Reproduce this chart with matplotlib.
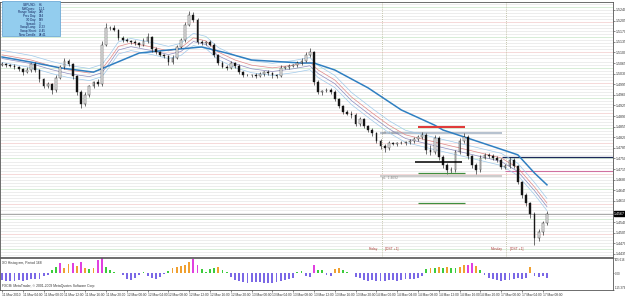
import numpy as np
import matplotlib
matplotlib.use("Agg")
import matplotlib.pyplot as plt
import matplotlib.transforms as mtransforms
from matplotlib.patches import Rectangle

plt.rcParams['font.family'] = ['Liberation Sans', 'DejaVu Sans']

# ============================================================
# DATA
# ============================================================
first_open = 1.5060
closes = [
    1.5062, 1.5058, 1.5055, 1.5052, 1.5045, 1.5035, 1.5042, 1.5062, 1.5042, 1.5012,
    1.4989, 1.4996, 1.4976, 1.5016, 1.5052, 1.5072, 1.5062, 1.5022, 1.4969, 1.4930,
    1.4960, 1.4989, 1.5002, 1.4996, 1.5125, 1.5181, 1.5181, 1.5174, 1.5148, 1.5141,
    1.5138, 1.5134, 1.5131, 1.5125, 1.5138, 1.5151, 1.5111, 1.5101, 1.5092, 1.5088,
    1.5068, 1.5082, 1.5118, 1.5141, 1.5191, 1.5224, 1.5207, 1.5134, 1.5131, 1.5134,
    1.5125, 1.5092, 1.5065, 1.5052, 1.5049, 1.5065, 1.5055, 1.5035, 1.5025, 1.5025,
    1.5025, 1.5022, 1.5029, 1.5035, 1.5032, 1.5025, 1.5022, 1.5049, 1.5052, 1.5055,
    1.5058, 1.5065, 1.5072, 1.5092, 1.5101, 1.5002, 1.4969, 1.4973, 1.4976, 1.4969,
    1.4946, 1.4923, 1.4903, 1.4897, 1.4893, 1.4864, 1.4880, 1.4857, 1.4844, 1.4834,
    1.4808, 1.4791, 1.4785, 1.4801, 1.4798, 1.4801, 1.4801, 1.4804, 1.4808, 1.4814,
    1.4821, 1.4828, 1.4778, 1.4771, 1.4817, 1.4755, 1.4728, 1.4712, 1.4712, 1.4771,
    1.4808, 1.4821, 1.4758, 1.4728, 1.4712, 1.4752, 1.4762, 1.4758, 1.4752, 1.4745,
    1.4722, 1.4725, 1.4745, 1.4725, 1.4672, 1.4630, 1.4603, 1.4567, 1.4488, 1.4507,
    1.4537, 1.4567,
]
# wick lengths in pips
wick_up = [
    6, 4, 5, 8, 3, 5, 9, 4, 6, 3,
    5, 7, 4, 10, 6, 8, 5, 4, 3, 6,
    8, 5, 4, 9, 12, 15, 6, 8, 4, 5,
    6, 4, 7, 5, 9, 12, 4, 6, 5, 3,
    5, 8, 6, 7, 10, 12, 8, 5, 7, 4,
    6, 5, 4, 8, 5, 7, 4, 6, 3, 5,
    4, 6, 5, 4, 7, 3, 5, 8, 4, 6,
    5, 7, 9, 11, 14, 5, 6, 4, 8, 5,
    6, 4, 5, 7, 9, 6, 8, 5, 4, 6,
    5, 7, 8, 6, 5, 4, 6, 5, 7, 6,
    8, 10, 6, 15, 12, 7, 5, 6, 9, 8,
    10, 12, 6, 5, 7, 8, 6, 5, 7, 6,
    5, 8, 9, 6, 4, 5, 6, 4, 8, 10,
    7, 9,
]
wick_dn = [
    5, 6, 4, 7, 5, 8, 4, 6, 5, 9,
    8, 6, 12, 5, 4, 6, 7, 9, 10, 14,
    7, 6, 5, 8, 6, 5, 7, 4, 6, 5,
    4, 6, 5, 7, 5, 6, 8, 5, 4, 7,
    9, 6, 5, 4, 6, 5, 8, 7, 5, 6,
    5, 6, 7, 5, 8, 4, 6, 5, 7, 4,
    6, 5, 4, 7, 5, 8, 6, 4, 5, 6,
    4, 5, 6, 5, 7, 9, 6, 8, 5, 7,
    6, 8, 7, 5, 9, 6, 7, 8, 6, 9,
    7, 10, 12, 6, 5, 7, 4, 6, 5, 7,
    6, 8, 12, 9, 7, 10, 8, 12, 10, 6,
    5, 6, 9, 8, 12, 6, 5, 7, 6, 8,
    7, 6, 5, 8, 7, 10, 9, 12, 22, 10,
    8, 6,
]

# moving averages (bar index, price)
slow_idx = [0, 7, 14, 22, 33, 40, 48, 54, 60, 72, 75, 80, 88, 96, 104, 106, 112, 119, 124, 128, 131]
slow_val = [1.5085, 1.5068, 1.5049, 1.5035, 1.5098, 1.5108, 1.5118, 1.5098, 1.5075, 1.5065, 1.5065,
            1.5042, 1.4983, 1.4910, 1.4860, 1.4844, 1.4817, 1.4785, 1.4762, 1.4702, 1.4663]
fast_idx = [0, 7, 12, 16, 21, 24, 26, 28, 31, 36, 40, 43, 46, 49, 52, 56, 60, 65, 70, 74,
            76, 80, 84, 89, 93, 97, 105, 113, 120, 124, 128, 131]
fast_val = [1.5092, 1.5075, 1.5055, 1.5042, 1.5032, 1.5045, 1.5080, 1.5120, 1.5131, 1.5118,
            1.5105, 1.5115, 1.5148, 1.5138, 1.5101, 1.5075, 1.5058, 1.5049, 1.5058, 1.5068,
            1.5042, 1.5009, 1.4953, 1.4900, 1.4860, 1.4828, 1.4801, 1.4775, 1.4752, 1.4719,
            1.4656, 1.4603]
band_offsets = [0.0015, -0.0012, -0.0025]

# histogram indicator
hist_vals = [
    -45, -50, -55, -50, -48, -52, -45, -40, -42, -38,
    -20, -10, 20, 45, 72, 35, 65, 70, 50, 80,
    35, 30, 40, 90, 104, 45, 20, 10, 5, -15,
    -40, -45, -30, -10, 12, -20, -35, -40, -25, -5,
    15, 40, 45, 50, 55, 75, 100, 60, 30, 10,
    30, 40, 45, 25, 10, -25, -45, -55, -60, -65,
    -62, -58, -60, -66, -70, -64, -58, -52, -48, -40,
    -30, 10, 15, -20, -25, 60, 25, 20, -15, -20,
    30, 40, 20, 10, 5, -25, -35, -45, -50, -48,
    -55, -52, -50, -45, -48, -50, -45, -40, -42, -38,
    -30, -20, 30, 40, 35, 45, 40, 42, 38, 35,
    45, 55, 60, 70, 50, 20, -10, -30, -40, -45,
    -50, -48, -45, -40, -35, -38, -30, 45, -20, -25,
    -20, -30,
]
hist_cols = "".join([
    "pppppppppp", "ppggmoomom", "ogommggggp", "ppppgppppp", "gooooommgg",
    "ggoggppppp", "pppppppppp", "pggppmggpp", "oogggppppp", "pppppppppp",
    "ppgogogogg", "oommogpppp", "pppppppopp", "pp",
])
hist_top = 105.616
hist_bot = -115.379

time_labels = [
    "11 May 2010", "11 May 04:00", "11 May 08:00", "11 May 12:00", "11 May 16:00", "11 May 20:00",
    "12 May 00:00", "12 May 04:00", "12 May 08:00", "12 May 12:00", "12 May 16:00", "12 May 20:00",
    "13 May 00:00", "13 May 04:00", "13 May 08:00", "13 May 12:00", "13 May 16:00", "13 May 20:00",
    "14 May 00:00", "14 May 04:00", "14 May 08:00", "14 May 12:00", "14 May 16:00", "14 May 20:00",
    "17 May 00:00", "17 May 04:00", "17 May 08:00",
]
bars_per_label = 5

tick_top = 1.5240
tick_step = 0.0035
n_ticks = 24

red_level = 1.4854
black_level = 1.4738
green_levels = [1.4702, 1.4603]
ph_level = 1.4834
pl_level = 1.4692
navy_level = 1.4755
pink_level = 1.4709
sep_idx = [91.25, 121.25]
sep_names = ["Friday", "Monday"]

info_labels = ["GBPUSD:", "TuffCross:", "Range Today:", "Prev Day:", "30 Day:",
               "Spread:", "Swap Long:", "Swap Short:", "New Candle:"]
info_values = ["H1", "-11.1", "246", "144", "189", "3", "-0.23", "-0.45", "08:41"]

assert len(closes) == len(wick_up) == len(wick_dn) == len(hist_vals) == len(hist_cols)

# ============================================================
# PLOT
# ============================================================
W, H = 625, 296
PX_PER_BAR = 4.16
fig = plt.figure(figsize=(W / 100, H / 100), dpi=100)
fig.patch.set_facecolor("white")
ax = fig.add_axes([0, 1 - 257 / H, 613 / W, 255 / H])
ax2 = fig.add_axes([0, 1 - 290 / H, 613 / W, 32 / H])

n = len(closes)
x = np.arange(n)
c = np.array(closes)
o = np.r_[first_open, c[:-1]]
hi = np.maximum(o, c) + np.array(wick_up) / 1e4
lo = np.minimum(o, c) - np.array(wick_dn) / 1e4
xlim = (-2 / PX_PER_BAR, 611 / PX_PER_BAR)
ylim = (1.44249, 1.52664)

# background level grid
levels = np.round(np.arange(1.4430, 1.5275, 0.0010), 4)
grid_cols = []
for lev in levels:
    k = int(round(lev * 1e4))
    if k % 100 == 0:
        grid_cols.append("#f3caca")
    elif k % 50 == 0:
        grid_cols.append("#c8e6c8")
    else:
        grid_cols.append("#e6e6e6")
ax.hlines(levels, xlim[0], xlim[1], colors=grid_cols, lw=0.5, zorder=0)

# session separators
for s, name in zip(sep_idx, sep_names):
    ax.axvline(s, color="#b4b494", lw=0.6, ls=(0, (1, 1.5)), zorder=1)
    ax.text(s - 0.8, 1.4450, name, ha="right", va="center", fontsize=2.4, color="#b04040")
    ax.text(s + 0.8, 1.4450, "[DST +1]", ha="left", va="center", fontsize=2.4, color="#b04040")

# price reference lines
ax.axhline(c[-1], color="#9a9a9a", lw=0.6, zorder=1)
ax.hlines(ph_level, 90.9, 120.2, color="#a9b6c6", lw=1.2, zorder=1)
ax.hlines(pl_level, 90.9, 120.2, color="#cdcdcd", lw=1.5, zorder=1)
ax.text(91.3, ph_level, f"pH  {ph_level:.4f}", fontsize=2.4, color="#8a8a8a", va="center", zorder=2)
ax.text(91.3, pl_level - 0.0005, f"pL  {pl_level:.4f}", fontsize=2.4, color="#8a8a8a", va="center", zorder=2)
ax.hlines(navy_level, 120.2, xlim[1], color="#1c2a5a", lw=0.9, zorder=2)
ax.hlines(pink_level, 121.0, xlim[1], color="#d070a0", lw=0.8, zorder=2)

# moving averages
ax.plot(fast_idx, np.array(fast_val) + band_offsets[0], color="#9ec9ea", lw=0.5, zorder=3)
ax.plot(fast_idx, fast_val, color="#e08888", lw=0.5, zorder=3)
ax.plot(fast_idx, np.array(fast_val) + band_offsets[1], color="#8c8cc0", lw=0.5, zorder=3)
ax.plot(fast_idx, np.array(fast_val) + band_offsets[2], color="#9ec9ea", lw=0.5, zorder=3)
ax.plot(slow_idx, slow_val, color="#2f7fc1", lw=1.1, zorder=4)

# candles
ax.vlines(x, lo, hi, color="#202020", lw=0.45, zorder=5)
bull = c >= o
body_lo = np.minimum(o, c)
body_h = np.maximum(np.abs(c - o), 0.00008)
ax.bar(x, body_h, bottom=body_lo, width=0.42,
       color=np.where(bull, "#f4f4f4", "#111111"), edgecolor="#202020", lw=0.3, zorder=6)

# marked levels
ax.hlines(red_level, 100.0, 111.3, color="#e03a3a", lw=1.5, zorder=7)
ax.hlines(black_level, 99.3, 110.6, color="#000000", lw=1.1, zorder=7)
ax.hlines(green_levels, 100.0, 111.3, color="#3f8f3f", lw=0.9, zorder=7)

ax.set_xlim(*xlim)
ax.set_ylim(*ylim)
ax.set_xticks([])
ax.yaxis.tick_right()
yt = np.round(tick_top - tick_step * np.arange(n_ticks), 4)
yt = yt[np.abs(yt - c[-1]) > 0.0012]   # label under the price box is hidden
ax.set_yticks(yt)
ax.set_yticklabels([f"{v:.4f}" for v in yt])
ax.tick_params(axis="y", labelsize=2.6, length=1.2, width=0.4, pad=0.6, colors="#333333")
for sp in ax.spines.values():
    sp.set_color("#555555")
    sp.set_linewidth(0.6)

trans = mtransforms.blended_transform_factory(ax.transAxes, ax.transData)
ax.text(1.002, c[-1], f"{c[-1]:.4f}", transform=trans, fontsize=2.6, color="white",
        va="center", ha="left", zorder=10,
        bbox=dict(fc="black", ec="black", pad=0.4))

# histogram panel
cmap = {"p": "#7b68e6", "g": "#3ccc3c", "o": "#f0a030", "m": "#e040e0"}
ax2.bar(x, hist_vals, width=0.45, color=[cmap[ch] for ch in hist_cols], lw=0)
ax2.set_xlim(*xlim)
ax2.set_ylim(hist_bot, hist_top)
ax2.yaxis.tick_right()
ax2.set_yticks([hist_bot, 0, hist_top])
ax2.set_yticklabels([f"{hist_bot:.3f}", "0.00", f"{hist_top:.3f}"])
ax2.tick_params(axis="y", labelsize=2.1, length=1.0, width=0.4, pad=0.5, colors="#333333")
yl = ax2.get_yticklabels()
yl[0].set_va("bottom")
yl[2].set_va("top")
ax2.set_xticks(np.arange(0, n, bars_per_label)[:len(time_labels)])
ax2.set_xticklabels(time_labels, ha="left")
ax2.tick_params(axis="x", labelsize=2.3, length=1.5, width=0.4, pad=0.4, colors="#333333")
for sp in ax2.spines.values():
    sp.set_color("#555555")
    sp.set_linewidth(0.6)
ax2.text(0.004, 0.92, "XO Histogram, Period 168", transform=ax2.transAxes,
         fontsize=2.4, va="top", color="#333333")
ax2.text(0.003, 0.06, "FXCM: MetaTrader, \u00a9 2001-2009 MetaQuotes Software Corp.",
         transform=ax2.transAxes, fontsize=2.4, va="bottom", color="#333333")

# info box
fig.add_artist(Rectangle((2 / W, 1 - 36 / H), 58 / W, 35 / H, transform=fig.transFigure,
                         fc="#93cdee", ec="#5f9fd0", lw=0.5, zorder=20))
for k, (lab, val) in enumerate(zip(info_labels, info_values)):
    yy = 1 - (4.8 + 3.75 * k) / H
    fig.text(36 / W, yy, lab, ha="right", va="center", fontsize=2.2, color="#10205a", zorder=21)
    fig.text(39 / W, yy, val, ha="left", va="center", fontsize=2.2, color="#10205a", zorder=21)

fig.savefig("out.png", dpi=100)
